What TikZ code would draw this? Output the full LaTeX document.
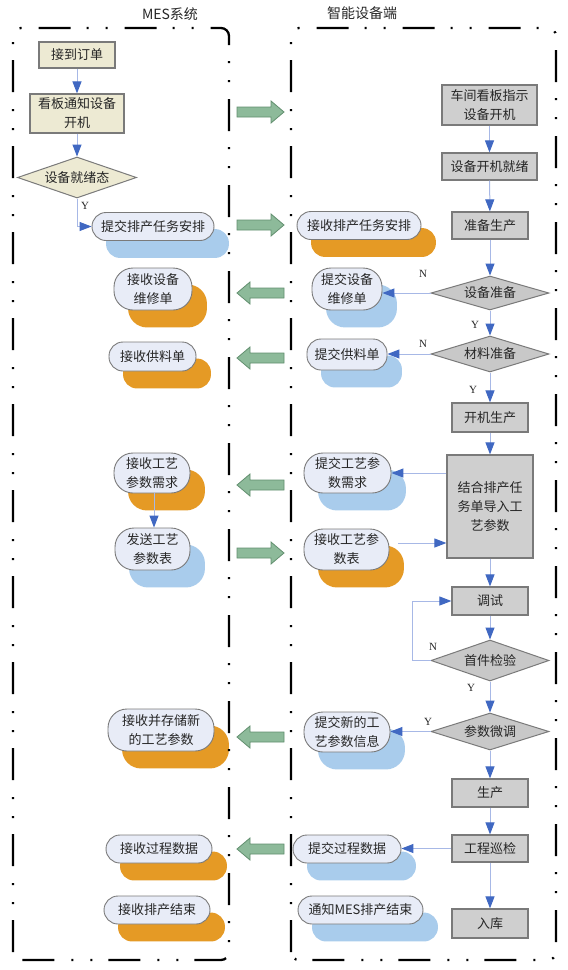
\documentclass[tikz,border=0pt]{standalone}
\usepackage{fontspec}
\newfontfamily\cjk{Noto Sans CJK SC}
\newfontfamily\ser{Liberation Serif}
\usetikzlibrary{arrows.meta,calc,shapes.geometric}
\pgfdeclarelayer{paper}
\pgfdeclarelayer{bg}
\pgfsetlayers{paper,bg,main}
\definecolor{beige}{HTML}{EDEAD3}
\definecolor{boxgray}{HTML}{CFCFCF}
\definecolor{diagray}{HTML}{C8C8C8}
\definecolor{pillfill}{HTML}{E8ECF7}
\definecolor{blobor}{HTML}{E59A25}
\definecolor{blobbl}{HTML}{A9CCEC}
\definecolor{garfill}{HTML}{8DBA9A}
\definecolor{gardraw}{HTML}{628F6F}
\definecolor{conncol}{HTML}{A7B8E6}
\definecolor{tipcol}{HTML}{4068C2}
\definecolor{edgecol}{HTML}{7A7A7A}
\definecolor{txtcol}{HTML}{262626}
\tikzset{
  txt/.style={font=\cjk\fontsize{13}{19}\selectfont, text=txtcol, align=center, inner sep=0pt},
  sq/.style={txt, draw=edgecol, line width=1.2pt, rectangle},
  tanbox/.style={sq, fill=beige},
  graybox/.style={sq, fill=boxgray},
  tandia/.style={txt, diamond, draw=edgecol, line width=1pt, fill=beige},
  graydia/.style={txt, diamond, draw=edgecol, line width=1pt, fill=diagray},
  pill/.style={txt, rectangle, draw=edgecol, line width=0.9pt, fill=pillfill, rounded corners=#1},
  conn/.style={draw=conncol, line width=1pt, -{Triangle[length=12pt,width=9pt,color=tipcol]}},
  yn/.style={font=\ser\fontsize{11}{13}\selectfont, text=txtcol, inner sep=0pt},
  frame/.style={line width=2.3pt, black, dash pattern=on 32pt off 16pt on 2pt off 17pt on 2pt off 17pt, rounded corners=8pt},
  title/.style={font=\cjk\fontsize{14}{16}\selectfont, text=txtcol, inner sep=0pt}
}
\newcommand\myblob[3]{\begin{pgfonlayer}{bg}\fill[#2, rounded corners=#3pt] ($(#1.south west)+(14.5,17)$) rectangle ($(#1.north east)+(14.5,17)$);\end{pgfonlayer}}
\newcommand\garrow[2]{\begin{scope}[shift={(260.5,#1)}, xscale=#2]
\filldraw[fill=garfill, draw=gardraw, line width=0.8pt] (-23.5,-5) -- (10.5,-5) -- (10.5,-11) -- (23.5,0) -- (10.5,11) -- (10.5,5) -- (-23.5,5) -- cycle;
\end{scope}}
\begin{document}
\begin{tikzpicture}[x=1pt,y=-1pt]
\useasboundingbox (0,0) rectangle (568,970);
\begin{pgfonlayer}{paper}\fill[white] (0,0) rectangle (568,970);\end{pgfonlayer}
% titles
\node[title] (t1) at (170,14) {MES系统};
\node[title] (t2) at (362,13) {智能设备端};
% frames
\draw[frame] (13,960) -- (13,28) -- (229,28) -- (229,960) -- cycle;
\draw[frame] (291,960) -- (291,28) -- (556,28) -- (556,960) -- cycle;
% MES column
\node[tanbox, minimum width=76, minimum height=26] (a1) at (77,55) {接到订单};
\node[tanbox, minimum width=94, minimum height=39] (a2) at (77,113.5) {看板通知设备\\开机};
\node[tandia, aspect=2.9, minimum width=119, minimum height=41] (a3) at (77,177.5) {设备就绪态};
\node[pill=14pt, minimum width=122, minimum height=28] (a4) at (153,226.5) {提交排产任务安排};
\node[pill=19pt, minimum width=78, minimum height=42] (l1) at (153,289) {接收设备\\维修单};
\node[pill=14pt, minimum width=87, minimum height=29] (l2) at (152.5,356.5) {接收供料单};
\node[pill=19pt, minimum width=76, minimum height=40] (l3) at (152,473) {接收工艺\\参数需求};
\node[pill=19pt, minimum width=75, minimum height=42] (l4) at (152.5,549) {发送工艺\\参数表};
\node[pill=19pt, minimum width=106, minimum height=42] (l5) at (161,730) {接收并存储新\\的工艺参数};
\node[pill=14pt, minimum width=106, minimum height=28] (l6) at (159,849) {接收过程数据};
\node[pill=14pt, minimum width=106, minimum height=28] (l7) at (157,910) {接收排产结束};
% middle column
\node[pill=14pt, minimum width=124, minimum height=28] (m1) at (359,225.5) {接收排产任务安排};
\node[pill=19pt, minimum width=70, minimum height=42] (m2) at (347,289) {提交设备\\维修单};
\node[pill=14pt, minimum width=80, minimum height=31] (m3) at (347,354.5) {提交供料单};
\node[pill=19pt, minimum width=87, minimum height=40] (m4) at (347.5,473) {提交工艺参\\数需求};
\node[pill=19pt, minimum width=85, minimum height=41] (m5) at (346.5,549.5) {接收工艺参\\数表};
\node[pill=19pt, minimum width=86, minimum height=40] (m6) at (347,732) {提交新的工\\艺参数信息};
\node[pill=14pt, minimum width=108, minimum height=28] (m7) at (347,849) {提交过程数据};
\node[pill=14pt, minimum width=125, minimum height=28] (m8) at (360.5,910) {通知MES排产结束};
% device column
\node[graybox, minimum width=95, minimum height=40] (c1) at (489.5,105) {车间看板指示\\设备开机};
\node[graybox, minimum width=95, minimum height=27] (c2) at (489.5,166.5) {设备开机就绪};
\node[graybox, minimum width=76, minimum height=27] (c3) at (490,225.5) {准备生产};
\node[graydia, aspect=3.47, minimum width=118, minimum height=34] (d1) at (490,293) {设备准备};
\node[graydia, aspect=3.28, minimum width=118, minimum height=36] (d2) at (490,354) {材料准备};
\node[graybox, minimum width=76, minimum height=29] (c4) at (490,417.5) {开机生产};
\node[graybox, minimum width=86, minimum height=103] (c5) at (490,506.5) {结合排产任\\务单导入工\\艺参数};
\node[graybox, minimum width=76, minimum height=28] (c6) at (490,601) {调试};
\node[graydia, aspect=2.88, minimum width=118, minimum height=41] (d3) at (490,660.5) {首件检验};
\node[graydia, aspect=3.19, minimum width=118, minimum height=37] (d4) at (490,731.5) {参数微调};
\node[graybox, minimum width=76, minimum height=28] (c7) at (490,793) {生产};
\node[graybox, minimum width=76, minimum height=27] (c8) at (490,848.5) {工程巡检};
\node[graybox, minimum width=76, minimum height=29] (c9) at (490,923.5) {入库};
% shadow blobs
\myblob{a4}{blobbl}{14}
\myblob{l1}{blobor}{19}
\myblob{l2}{blobor}{14}
\myblob{l3}{blobor}{19}
\myblob{l4}{blobbl}{19}
\myblob{l5}{blobor}{19}
\myblob{l6}{blobor}{14}
\myblob{l7}{blobor}{14}
\myblob{m1}{blobor}{14}
\myblob{m2}{blobbl}{19}
\myblob{m3}{blobbl}{14}
\myblob{m4}{blobbl}{19}
\myblob{m5}{blobor}{19}
\myblob{m6}{blobbl}{19}
\myblob{m7}{blobbl}{14}
\myblob{m8}{blobbl}{14}
% connectors MES
\draw[conn] (a1) -- (a2);
\draw[conn] (a2) -- (a3);
\draw[conn] (a3.south) |- (a4.west);
\draw[conn] (l3.south -| 154,0) -- (l4.north -| 154,0);
% connectors device
\draw[conn] (c1) -- (c2);
\draw[conn] (c2) -- (c3);
\draw[conn] (c3) -- (d1);
\draw[conn] (d1) -- (d2);
\draw[conn] (d2) -- (c4);
\draw[conn] (c4) -- (c5);
\draw[conn] (c5) -- (c6);
\draw[conn] (c6) -- (d3);
\draw[conn] (d3) -- (d4);
\draw[conn] (d4) -- (c7);
\draw[conn] (c7) -- (c8);
\draw[conn] (c8) -- (c9);
\draw[conn] (d1.west) -- (m2.east |- d1.west);
\draw[conn] (d2.west) -- (m3.east |- d2.west);
\draw[conn] (c5.west |- m4.east) -- (m4.east);
\coordinate (m5out) at (398,543);
\draw[conn] (m5out) -- (c5.west |- m5out);
\draw[conn] (d3.west) -- ++(-18,0) |- (c6.west);
\draw[conn] (d4.west) -- (m6.east |- d4.west);
\draw[conn] (c8.west) -- (m7.east |- c8.west);
% Y/N labels
\node[yn] (y0) at (85,206) {Y};
\node[yn] (n1) at (423,274) {N};
\node[yn] (y1) at (475,325) {Y};
\node[yn] (n2) at (423,344) {N};
\node[yn] (y2) at (473,390) {Y};
\node[yn] (n3) at (433,647) {N};
\node[yn] (y3) at (471,688) {Y};
\node[yn] (y4) at (428,722) {Y};
% green arrows
\garrow{112}{1}
\garrow{225}{1}
\garrow{293}{-1}
\garrow{358}{-1}
\garrow{485}{-1}
\garrow{553}{1}
\garrow{737}{-1}
\garrow{849}{-1}
\end{tikzpicture}
\end{document}
